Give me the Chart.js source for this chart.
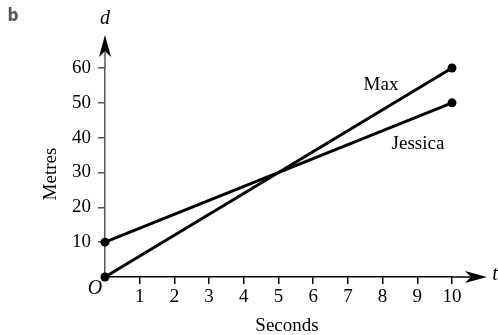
<!DOCTYPE html>
<html>
<head>
<meta charset="utf-8">
<script src="https://cdn.jsdelivr.net/npm/chart.js@4.4.1/dist/chart.umd.min.js"></script>
<style>
  body { margin: 0; background: #fff; }
  canvas { display: block; }
</style>
</head>
<body>
<canvas id="distance-chart" width="498" height="335"></canvas>
<script>
const seconds = [0, 10];
const maxMetres = [0, 60];
const jessicaMetres = [10, 50];
const seriesNames = ['Max', 'Jessica'];

const serif = "'Liberation Serif', serif";

function toPoints(ys) {
  return seconds.map((t, i) => ({ x: t, y: ys[i] }));
}

// hide the 0 tick (the origin gets an italic O instead)
const hideZero = (on) => (c) => (c.tick && c.tick.value === 0 ? 'rgba(0,0,0,0)' : on);

function arrow(ctx, x, y, dir) {
  // dir: 'up' or 'right'; swept back head
  ctx.save();
  ctx.translate(x, y);
  if (dir === 'up') ctx.rotate(-Math.PI / 2);
  ctx.beginPath();
  ctx.moveTo(0, 0);
  ctx.lineTo(-22, -6);
  ctx.lineTo(-16, 0);
  ctx.lineTo(-22, 6);
  ctx.closePath();
  ctx.fillStyle = '#000';
  ctx.fill();
  ctx.restore();
}

const decorations = {
  id: 'decorations',
  afterDraw(chart) {
    const ctx = chart.ctx;
    const a = chart.chartArea;
    ctx.save();
    // axis extensions
    ctx.lineWidth = 1.5;
    ctx.strokeStyle = '#555';
    ctx.beginPath();
    ctx.moveTo(a.left, a.top);
    ctx.lineTo(a.left, 45);
    ctx.stroke();
    ctx.strokeStyle = '#000';
    ctx.beginPath();
    ctx.moveTo(a.right, a.bottom);
    ctx.lineTo(475, a.bottom);
    ctx.stroke();
    arrow(ctx, a.left, 35, 'up');
    arrow(ctx, 487, a.bottom, 'right');

    ctx.fillStyle = '#000';
    ctx.textAlign = 'center';
    ctx.textBaseline = 'middle';
    ctx.font = 'italic 20px ' + serif;
    ctx.fillText('d', a.left, 19);
    ctx.fillText('t', 495, a.bottom - 2);
    ctx.fillText('O', 95, 289);

    ctx.font = '19px ' + serif;
    ctx.fillText(seriesNames[0], 381, 85);
    ctx.fillText(seriesNames[1], 418, 144);
    ctx.fillText('Seconds', 287, 326);

    ctx.save();
    ctx.translate(51, 174);
    ctx.rotate(-Math.PI / 2);
    ctx.fillText('Metres', 0, 0);
    ctx.restore();

    ctx.font = "bold 17px 'DejaVu Sans Condensed', 'DejaVu Sans', sans-serif";
    ctx.fillStyle = '#555';
    ctx.fillText('b', 13, 17);
    ctx.restore();
  }
};

new Chart(document.getElementById('distance-chart'), {
  type: 'line',
  data: {
    datasets: [
      {
        label: seriesNames[0],
        data: toPoints(maxMetres),
        borderColor: '#000',
        backgroundColor: '#000',
        borderWidth: 3,
        pointRadius: 4.5,
        pointBorderWidth: 0,
        clip: false
      },
      {
        label: seriesNames[1],
        data: toPoints(jessicaMetres),
        borderColor: '#000',
        backgroundColor: '#000',
        borderWidth: 3,
        pointRadius: 4.5,
        pointBorderWidth: 0,
        clip: false
      }
    ]
  },
  options: {
    responsive: false,
    animation: false,
    layout: { padding: { left: 45, right: 46, top: 68, bottom: 18 } },
    plugins: {
      legend: { display: false },
      tooltip: { enabled: false }
    },
    scales: {
      x: {
        type: 'linear',
        min: 0,
        max: 10,
        afterFit: (s) => { s.height = 40; },
        border: { display: true, color: '#000', width: 1.5 },
        grid: { drawOnChartArea: false, tickLength: 7, color: hideZero('#000'), lineWidth: 1.5 },
        ticks: {
          stepSize: 1,
          padding: 2,
          color: '#000',
          font: { family: serif, size: 19 },
          callback: (v) => (v === 0 ? '' : v)
        }
      },
      y: {
        min: 0,
        max: 60,
        afterFit: (s) => { s.width = 60; },
        border: { display: true, color: '#555', width: 1.5 },
        grid: { drawOnChartArea: false, tickLength: 7, color: hideZero('#555'), lineWidth: 1.5 },
        ticks: {
          stepSize: 10,
          padding: 7,
          color: '#000',
          font: { family: serif, size: 19 },
          callback: (v) => (v === 0 ? '' : v)
        }
      }
    }
  },
  plugins: [decorations]
});
</script>
</body>
</html>
